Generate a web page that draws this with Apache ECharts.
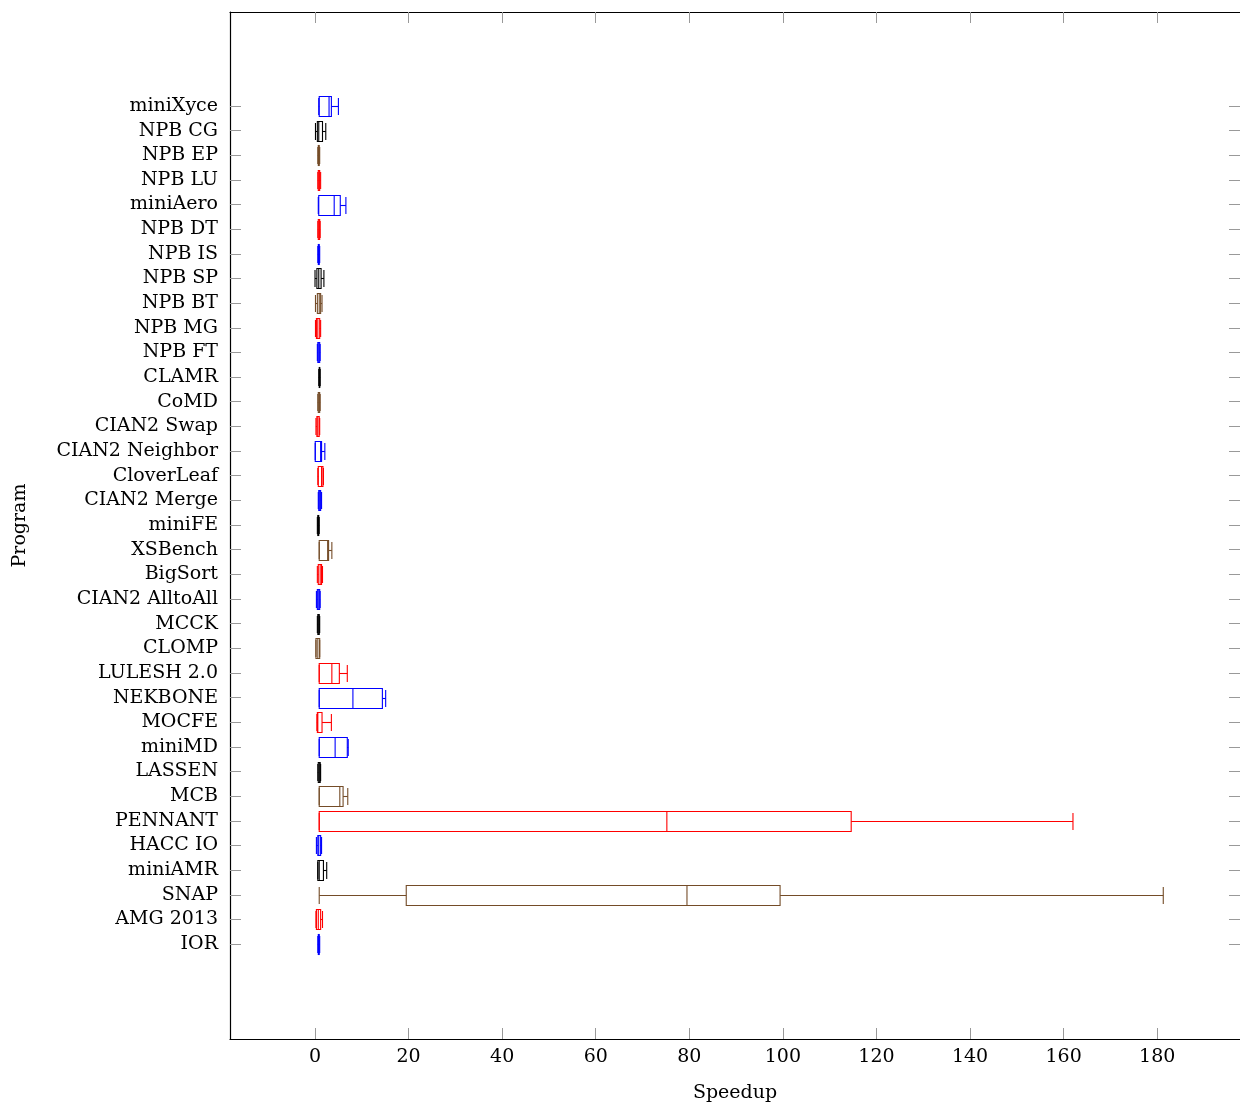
<!DOCTYPE html>
<html>
<head>
<meta charset="utf-8">
<script src="https://cdn.jsdelivr.net/npm/echarts@6/dist/echarts.min.js"></script>
<style>
html,body{margin:0;padding:0;background:#fff;}
#chart{width:1240px;height:1108px;}
</style>
</head>
<body>
<div id="chart"></div>
<script>
// Categories listed bottom to top
const categories = ["IOR","AMG 2013","SNAP","miniAMR","HACC IO","PENNANT","MCB","LASSEN","miniMD","MOCFE","NEKBONE","LULESH 2.0","CLOMP","MCCK","CIAN2 AlltoAll","BigSort","XSBench","miniFE","CIAN2 Merge","CloverLeaf","CIAN2 Neighbor","CIAN2 Swap","CoMD","CLAMR","NPB FT","NPB MG","NPB BT","NPB SP","NPB IS","NPB DT","miniAero","NPB LU","NPB EP","NPB CG","miniXyce"];
const lowWhisker = [0.6,0.2,0.9,0.6,0.3,0.9,0.9,0.6,0.9,0.4,0.9,0.9,0.2,0.5,0.3,0.5,0.9,0.5,0.7,0.6,0.05,0.2,0.6,0.8,0.5,0.1,0.1,0.0,0.6,0.6,0.7,0.6,0.6,0.1,0.8];
const lowerQuartile = [0.7,0.3,19.5,0.6,0.6,0.9,0.9,0.7,0.9,0.5,0.9,0.9,0.2,0.6,0.5,0.7,0.9,0.6,0.8,0.7,0.05,0.4,0.7,0.9,0.6,0.3,0.5,0.4,0.7,0.7,0.8,0.7,0.7,0.5,0.9];
const median = [0.8,0.7,79.5,0.9,0.8,75.2,5.3,1.0,4.3,0.6,8.1,3.6,0.6,0.8,0.8,1.1,2.7,0.7,1.0,1.4,1.2,0.6,0.9,1.0,0.8,0.6,0.9,0.8,0.8,0.9,4.1,0.9,0.8,0.8,3.0];
const upperQuartile = [0.9,1.2,99.4,1.8,1.2,114.6,6.0,1.1,6.9,1.5,14.4,5.2,1.0,0.9,1.0,1.4,2.9,0.8,1.2,1.7,1.4,0.9,1.0,1.0,1.0,1.0,1.2,1.3,0.9,1.0,5.4,1.0,0.9,1.6,3.5];
const highWhisker = [1.0,1.6,181.3,2.5,1.4,162.0,7.0,1.2,7.1,3.5,15.1,6.9,1.0,1.0,1.1,1.6,3.6,0.9,1.4,1.8,2.1,1.0,1.1,1.1,1.1,1.2,1.5,1.9,1.0,1.1,6.6,1.2,1.0,2.3,5.0];
const xTickValues = [0,20,40,60,80,100,120,140,160,180];

// Styles
const C = {blue:"#0000ff", red:"#ff0000", brown:"#744c28", black:"#000000"};
const boxColors = [C.blue,C.red,C.brown,C.black,C.blue,C.red,C.brown,C.black,C.blue,C.red,C.blue,C.red,C.brown,C.black,C.blue,C.red,C.brown,C.black,C.blue,C.red,C.blue,C.red,C.brown,C.black,C.blue,C.red,C.brown,C.black,C.blue,C.red,C.blue,C.red,C.brown,C.black,C.blue];

const seriesData = categories.map((c,i)=>[i, lowWhisker[i], lowerQuartile[i], median[i], upperQuartile[i], highWhisker[i]]);
const catIdx = categories.map((c,i)=>i);

const FONT = "DejaVu Serif";
const FS = 19;
const chart = echarts.init(document.getElementById('chart'), null, {renderer:'canvas'});

function renderItem(params, api){
  const idx = api.value(0);
  const lo = api.coord([api.value(1), idx]);
  const q1 = api.coord([api.value(2), idx]);
  const md = api.coord([api.value(3), idx]);
  const q3 = api.coord([api.value(4), idx]);
  const hi = api.coord([api.value(5), idx]);
  const y = Math.round(lo[1]) + 0.5;
  const bh = 10, ch = 8.5;
  const col = boxColors[idx];
  const st = {stroke: col, lineWidth: 1.1, fill: null};
  return {
    type:'group',
    children:[
      {type:'line', shape:{x1:lo[0], y1:y, x2:q1[0], y2:y}, style:st},
      {type:'line', shape:{x1:q3[0], y1:y, x2:hi[0], y2:y}, style:st},
      {type:'line', shape:{x1:lo[0], y1:y-ch, x2:lo[0], y2:y+ch}, style:st},
      {type:'line', shape:{x1:hi[0], y1:y-ch, x2:hi[0], y2:y+ch}, style:st},
      {type:'rect', shape:{x:q1[0], y:y-bh, width:q3[0]-q1[0], height:2*bh}, style:{stroke:col, lineWidth:1.1, fill:'rgba(0,0,0,0)'}},
      {type:'line', shape:{x1:md[0], y1:y-bh, x2:md[0], y2:y+bh}, style:st}
    ]
  };
}

const tickStyle = {show:true, inside:true, length:11, lineStyle:{color:'#999', width:1}};
const XMIN = -18.17, XMAX = 197.7;
const YMIN = -3.85, YMAX = 37.81;
chart.setOption({
  animation:false,
  backgroundColor:'#fff',
  grid:{left:230, right:0, top:12, bottom:66, show:false},
  xAxis:[
    {type:'value', position:'bottom', min:XMIN, max:XMAX,
     axisLine:{show:true, onZero:false, lineStyle:{color:'#000', width:1.2}},
     axisTick:Object.assign({customValues:xTickValues}, tickStyle),
     axisLabel:{customValues:xTickValues, color:'#000', fontFamily:FONT, fontSize:FS, margin:9},
     splitLine:{show:false},
     name:'Speedup', nameLocation:'middle', nameGap:45,
     nameTextStyle:{color:'#000', fontFamily:FONT, fontSize:FS}},
    {type:'value', position:'top', min:XMIN, max:XMAX,
     axisLine:{show:true, onZero:false, lineStyle:{color:'#000', width:1.2}},
     axisTick:Object.assign({customValues:xTickValues}, tickStyle),
     axisLabel:{show:false}, splitLine:{show:false}}
  ],
  yAxis:[
    {type:'value', position:'left', min:YMIN, max:YMAX,
     axisLine:{show:true, onZero:false, lineStyle:{color:'#000', width:1.2}},
     axisTick:Object.assign({customValues:catIdx}, tickStyle),
     axisLabel:{customValues:catIdx, color:'#000', fontFamily:FONT, fontSize:FS, margin:12,
       formatter:(v)=>categories[Math.round(v)]},
     splitLine:{show:false},
     name:'Program', nameLocation:'middle', nameGap:200, nameRotate:90,
     nameTextStyle:{color:'#000', fontFamily:FONT, fontSize:FS}},
    {type:'value', position:'right', min:YMIN, max:YMAX,
     axisLine:{show:false, onZero:false},
     axisTick:Object.assign({customValues:catIdx}, tickStyle),
     axisLabel:{show:false}, splitLine:{show:false}}
  ],
  series:[{
    type:'custom', xAxisIndex:0, yAxisIndex:0,
    renderItem: renderItem,
    encode:{x:[1,2,3,4,5], y:0},
    data: seriesData,
    clip:false
  }]
});
</script>
</body>
</html>
